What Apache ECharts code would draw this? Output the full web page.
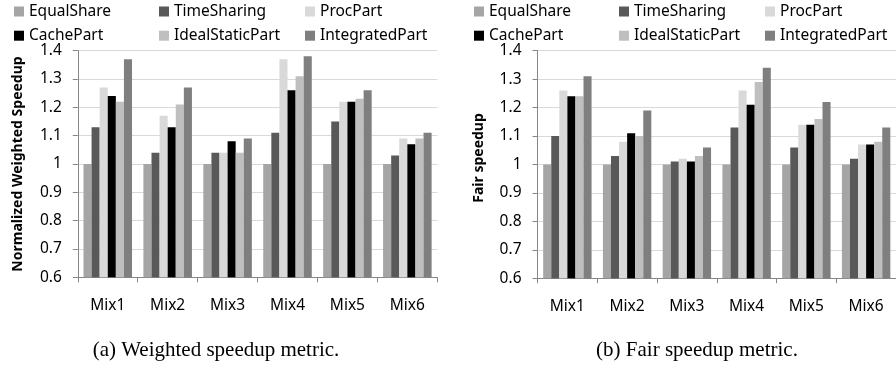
<!DOCTYPE html>
<html>
<head>
<meta charset="utf-8">
<script src="https://cdn.jsdelivr.net/npm/echarts@6/dist/echarts.min.js"></script>
<style>
  html, body { margin: 0; padding: 0; background: #ffffff; }
  #chart { width: 896px; height: 371px; }
</style>
</head>
<body>
<div id="chart"></div>
<script>
// Workload mixes on the x axis
const categories = ['Mix1', 'Mix2', 'Mix3', 'Mix4', 'Mix5', 'Mix6'];
const seriesNames = ['EqualShare', 'TimeSharing', 'ProcPart', 'CachePart', 'IdealStaticPart', 'IntegratedPart'];
const yTicks = ['0.6', '0.7', '0.8', '0.9', '1', '1.1', '1.2', '1.3', '1.4'];

// (a) normalized weighted speedup
const wEqualShare      = [1.00, 1.00, 1.00, 1.00, 1.00, 1.00];
const wTimeSharing     = [1.13, 1.04, 1.04, 1.11, 1.15, 1.03];
const wProcPart        = [1.27, 1.17, 1.04, 1.37, 1.22, 1.09];
const wCachePart       = [1.24, 1.13, 1.08, 1.26, 1.22, 1.07];
const wIdealStaticPart = [1.22, 1.21, 1.04, 1.31, 1.23, 1.09];
const wIntegratedPart  = [1.37, 1.27, 1.09, 1.38, 1.26, 1.11];

// (b) fair speedup
const fEqualShare      = [1.00, 1.00, 1.00, 1.00, 1.00, 1.00];
const fTimeSharing     = [1.10, 1.03, 1.01, 1.13, 1.06, 1.02];
const fProcPart        = [1.26, 1.08, 1.02, 1.26, 1.14, 1.07];
const fCachePart       = [1.24, 1.11, 1.01, 1.21, 1.14, 1.07];
const fIdealStaticPart = [1.24, 1.10, 1.03, 1.29, 1.16, 1.08];
const fIntegratedPart  = [1.31, 1.19, 1.06, 1.34, 1.22, 1.13];

const weightedValues = [wEqualShare, wTimeSharing, wProcPart, wCachePart, wIdealStaticPart, wIntegratedPart];
const fairValues = [fEqualShare, fTimeSharing, fProcPart, fCachePart, fIdealStaticPart, fIntegratedPart];

const colors = ['#a5a5a5', '#595959', '#d9d9d9', '#000000', '#bfbfbf', '#7f7f7f'];
const FONT = 'Noto Sans';
const AXIS_GREY = '#868686';

function xAxisFor(gridIndex) {
  return {
    type: 'category',
    gridIndex: gridIndex,
    data: categories,
    axisLine: { lineStyle: { color: AXIS_GREY, width: 1 } },
    axisTick: { show: true, length: 5, lineStyle: { color: AXIS_GREY } },
    axisLabel: { color: '#000', fontFamily: FONT, fontSize: 15.5, margin: 20 }
  };
}

function yAxisFor(gridIndex, title, gap, titlePadding) {
  return {
    type: 'value',
    gridIndex: gridIndex,
    min: 0.6, max: 1.4, interval: 0.1,
    name: title,
    nameLocation: 'middle',
    nameRotate: 90,
    nameGap: gap,
    nameTextStyle: { fontFamily: FONT, fontSize: 14, fontWeight: 'bold', color: '#000', padding: titlePadding },
    axisLine: { show: true, lineStyle: { color: AXIS_GREY, width: 1 } },
    axisTick: { show: true, length: 5, lineStyle: { color: AXIS_GREY } },
    axisLabel: {
      color: '#000', fontFamily: FONT, fontSize: 15.5, margin: 16,
      formatter: function (v) { return yTicks[Math.round((v - 0.6) * 10)]; }
    },
    splitLine: { show: true, lineStyle: { color: '#d9d9d9', width: 1 } }
  };
}

function barSeries(values, axisIndex) {
  return seriesNames.map(function (name, i) {
    return {
      name: name,
      type: 'bar',
      xAxisIndex: axisIndex,
      yAxisIndex: axisIndex,
      data: values[i],
      barGap: '0%',
      barCategoryGap: '19%',
      itemStyle: { color: colors[i] },
      animation: false
    };
  });
}

// Legend laid out as a 3x2 table above each panel
const legendCols = [[14, 159, 305], [474, 619, 765]];
const legendRows = [3.5, 27.7];
const legends = [];
legendCols.forEach(function (cols) {
  seriesNames.forEach(function (name, i) {
    legends.push({
      data: [name],
      left: cols[i % 3],
      top: legendRows[Math.floor(i / 3)],
      padding: 0,
      itemWidth: 10,
      itemHeight: 10,
      icon: 'rect',
      selectedMode: false,
      textStyle: { fontFamily: FONT, fontSize: 15.5, color: '#000' }
    });
  });
});

const chart = echarts.init(document.getElementById('chart'), null, { renderer: 'canvas' });
chart.setOption({
  backgroundColor: '#ffffff',
  animation: false,
  color: colors,
  legend: legends,
  grid: [
    { left: 77.8, top: 50.7, width: 359.5, height: 226.6 },
    { left: 537.5, top: 50.7, width: 360, height: 227.5 }
  ],
  xAxis: [xAxisFor(0), xAxisFor(1)],
  yAxis: [
    yAxisFor(0, 'Normalized Weighted Speedup', 53, 0),
    yAxisFor(1, 'Fair speedup', 51, [0, 0, 0, 13])
  ],
  series: barSeries(weightedValues, 0).concat(barSeries(fairValues, 1)),
  graphic: [
    {
      type: 'text', x: 216, y: 350,
      style: { text: '(a) Weighted speedup metric.', font: '21px "Liberation Serif"', fill: '#000', textAlign: 'center', textVerticalAlign: 'middle' }
    },
    {
      type: 'text', x: 697, y: 350,
      style: { text: '(b) Fair speedup metric.', font: '21px "Liberation Serif"', fill: '#000', textAlign: 'center', textVerticalAlign: 'middle' }
    }
  ]
});
</script>
</body>
</html>
